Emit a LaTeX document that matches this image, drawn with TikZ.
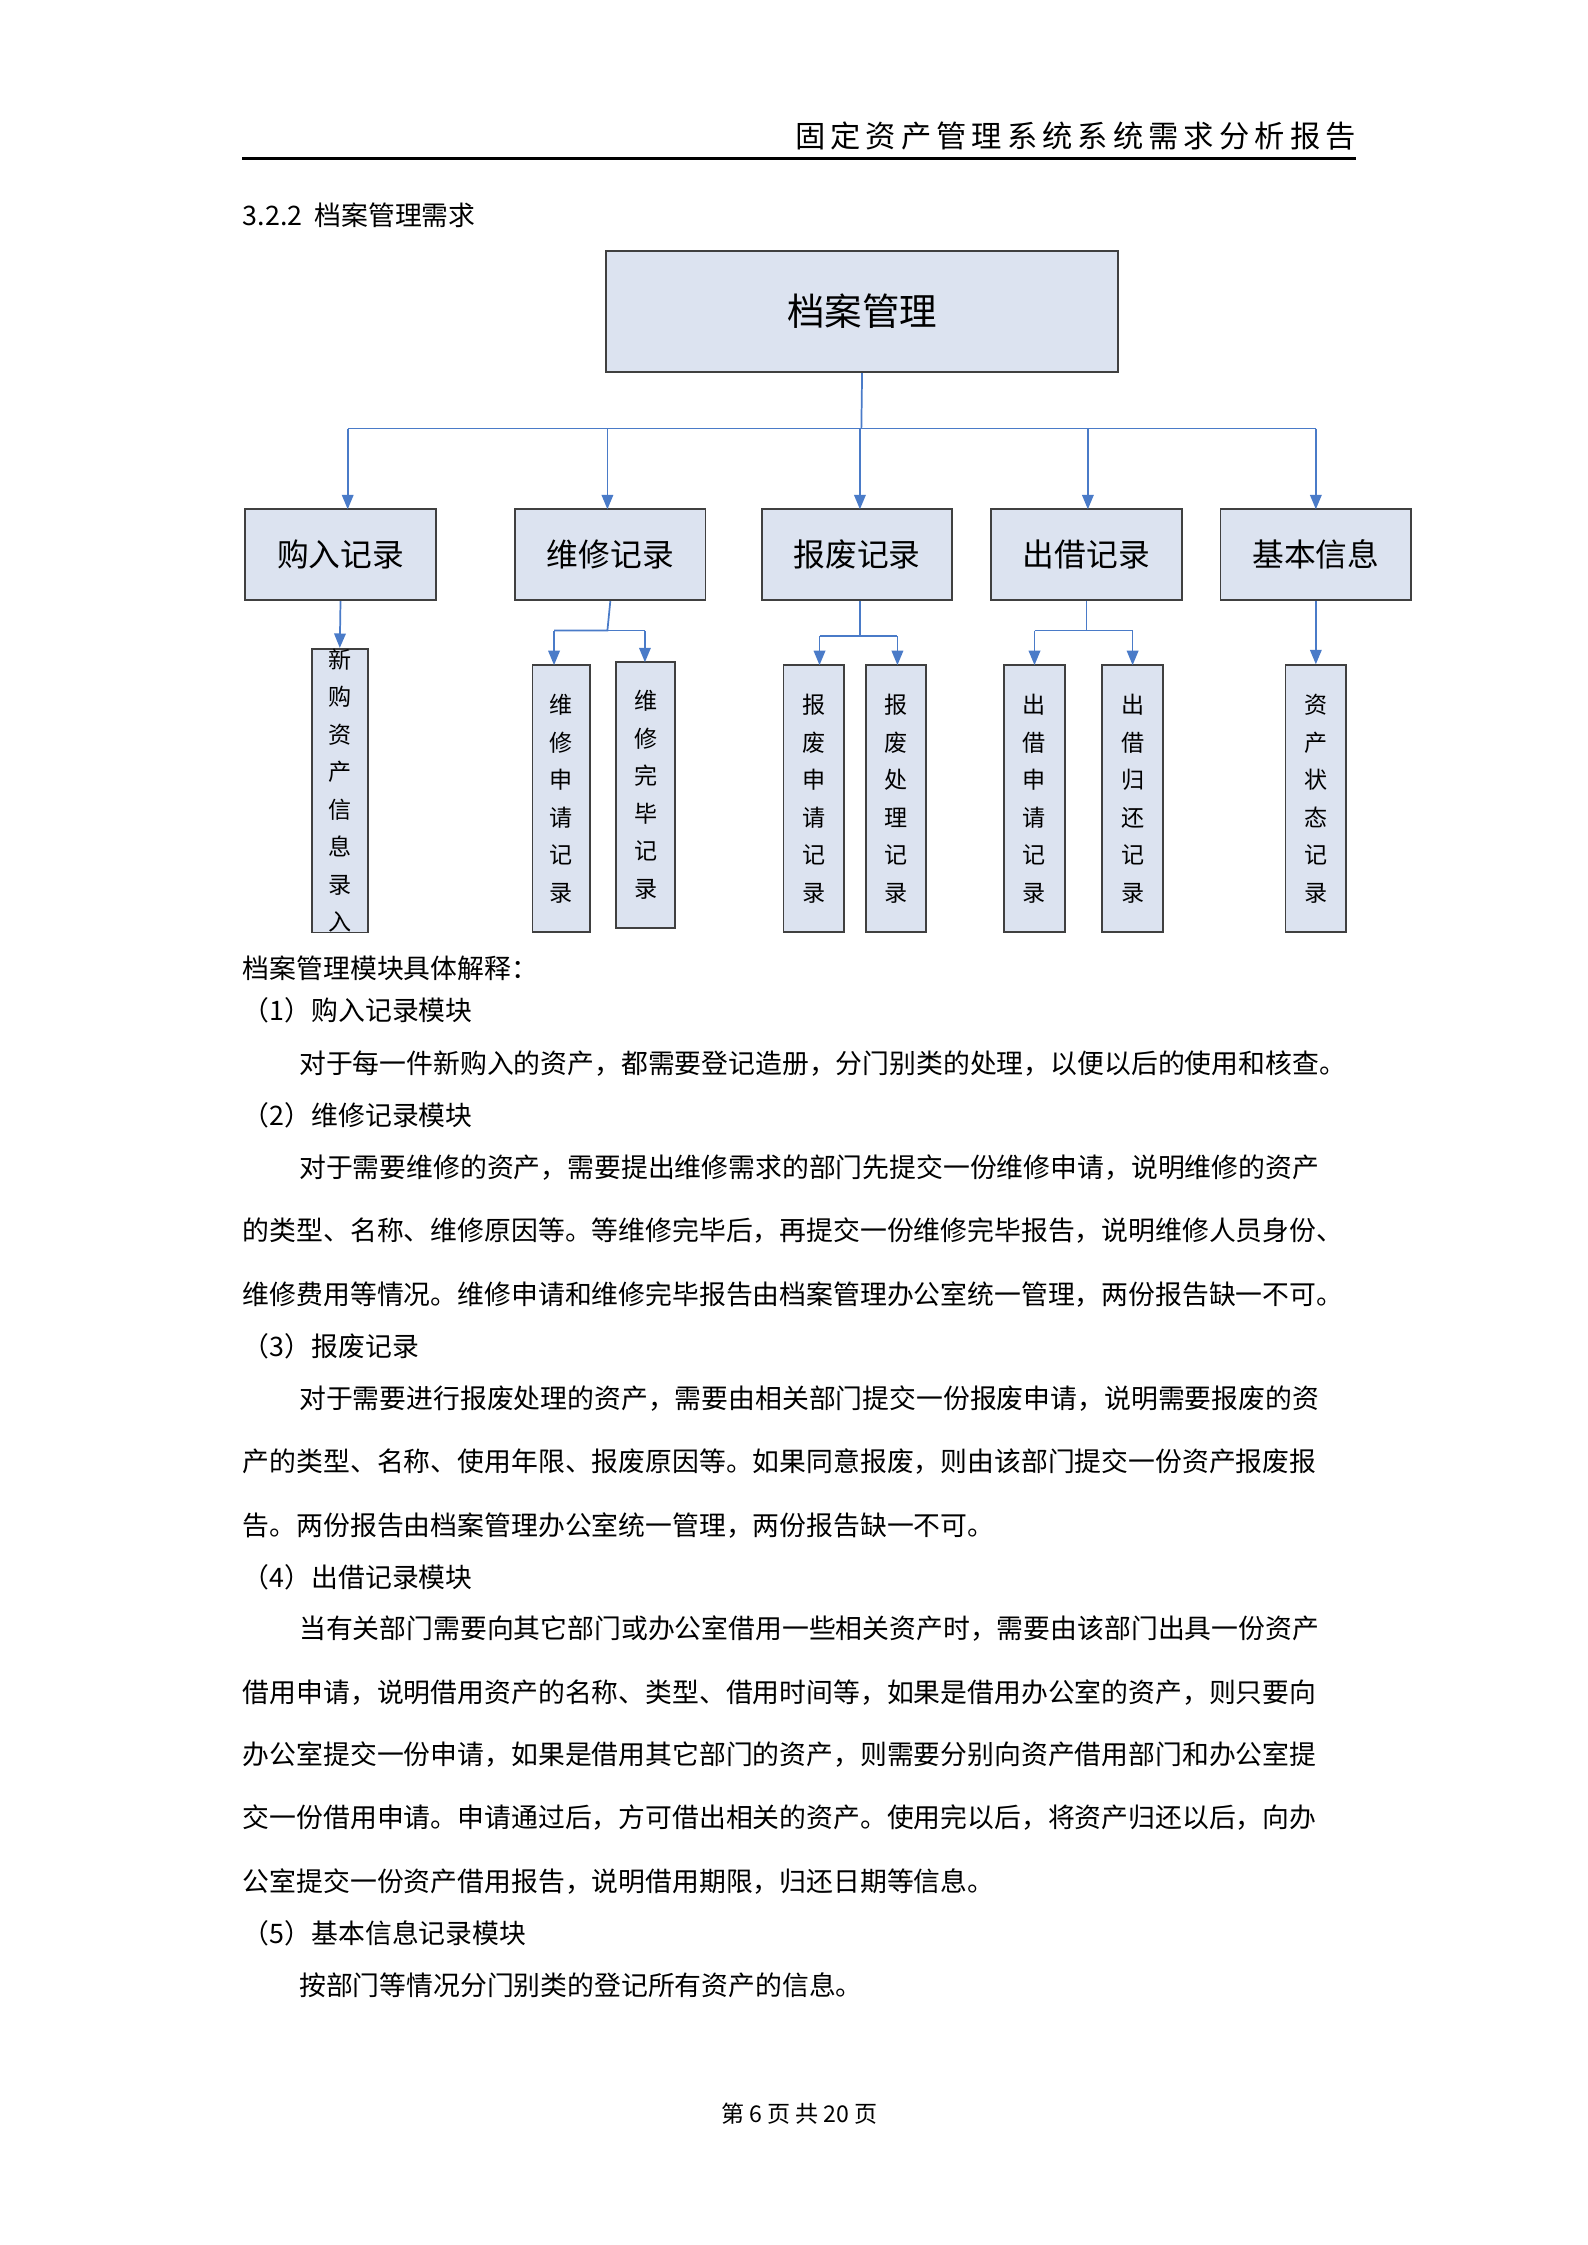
\documentclass[tikz,border=0pt]{standalone}
\usepackage{fontspec}
\setmainfont{Noto Sans CJK SC}
\usetikzlibrary{arrows.meta}
\definecolor{boxfill}{HTML}{DCE3F0}
\definecolor{conn}{HTML}{4A7BC8}
\tikzset{
 x=0.5pt,y=-0.5pt,
 lvl/.style={draw=black!75,fill=boxfill,line width=0.6pt,inner sep=0pt,font=\fontsize{11}{13}\selectfont},
 vbox/.style={draw=black!75,fill=boxfill,line width=0.6pt,inner sep=0pt,font=\fontsize{8}{11}\selectfont,align=center},
 cn/.style={draw=conn,line width=0.6pt},
 ca/.style={cn,-{Triangle[length=5pt,width=4pt]}},
 bt/.style={anchor=west,inner sep=0pt,font=\fontsize{9.3}{11}\selectfont},
}
\newcommand{\bx}[5]{\node[#1,minimum width={(#4-#2)*0.5pt},minimum height={(#5-#3)*0.5pt}] (#1n#2) at ({(#2+#4)/2},{(#3+#5)/2}) {};}
\begin{document}
\begin{tikzpicture}
\useasboundingbox (0,0) rectangle (1100,1556);
% header
\node[anchor=east,inner sep=0pt,font=\fontsize{10.5}{12}\selectfont] (hdr) at (940,94) {固\,定\,资\,产\,管\,理\,系\,统\,系\,统\,需\,求\,分\,析\,报\,告};
\coordinate (hl) at (168,110); \coordinate (hr) at (940,110);
\draw[line width=0.9pt] (hl) -- (hr);
\node[bt] (sec) at (168,149) {3.2.2\ \ 档案管理需求};
% top
\node[lvl,minimum width=177.5pt,minimum height=42pt,font=\fontsize{13}{15}\selectfont] (top) at (597.5,216) {档案管理};
\coordinate (j) at (597,297);
\node[lvl,minimum width=66pt,minimum height=31.5pt] (a) at (236,384.5) {购入记录};
\node[lvl,minimum width=66pt,minimum height=31.5pt] (b) at (423,384.5) {维修记录};
\node[lvl,minimum width=66pt,minimum height=31.5pt] (c) at (594,384.5) {报废记录};
\node[lvl,minimum width=66pt,minimum height=31.5pt] (d) at (753,384.5) {出借记录};
\node[lvl,minimum width=66pt,minimum height=31.5pt] (e) at (912,384.5) {基本信息};
\draw[cn] (top.south) -- (j);
\coordinate (ja) at (241,297); \coordinate (je) at (912,297);
\draw[cn] (ja) -- (je);
\foreach \xx/\nn in {241/a,421/b,596/c,754/d,912/e}{\draw[ca] (\xx,297) -- (\xx,353);}
% third level
\node[vbox,minimum width=19.5pt,minimum height=92pt] (a1) at (235.5,548) {新\\[2pt]购\\[2pt]资\\[2pt]产\\[2pt]信\\[2pt]息\\[2pt]录\\[2pt]入};
\node[vbox,minimum width=20pt,minimum height=92.5pt] (b1) at (389,553.5) {维\\[2pt]修\\[2pt]申\\[2pt]请\\[2pt]记\\[2pt]录};
\node[vbox,minimum width=20.5pt,minimum height=92pt] (b2) at (447.5,551) {维\\[2pt]修\\[2pt]完\\[2pt]毕\\[2pt]记\\[2pt]录};
\node[vbox,minimum width=21pt,minimum height=92.5pt] (c1) at (564,553.5) {报\\[2pt]废\\[2pt]申\\[2pt]请\\[2pt]记\\[2pt]录};
\node[vbox,minimum width=21pt,minimum height=92.5pt] (c2) at (621,553.5) {报\\[2pt]废\\[2pt]处\\[2pt]理\\[2pt]记\\[2pt]录};
\node[vbox,minimum width=21pt,minimum height=92.5pt] (d1) at (717,553.5) {出\\[2pt]借\\[2pt]申\\[2pt]请\\[2pt]记\\[2pt]录};
\node[vbox,minimum width=21pt,minimum height=92.5pt] (d2) at (785,553.5) {出\\[2pt]借\\[2pt]归\\[2pt]还\\[2pt]记\\[2pt]录};
\node[vbox,minimum width=21pt,minimum height=92.5pt] (e1) at (912,553.5) {资\\[2pt]产\\[2pt]状\\[2pt]态\\[2pt]记\\[2pt]录};
\draw[ca] (a.south) -- (a1.north);
\draw[cn] (b.south) -- (421,437) -| (384,437); \draw[cn] (384,437) -- (447,437);
\draw[ca] (384,437) -- (384,461); \draw[ca] (447,437) -- (447,459);
\draw[cn] (c.south) ++(2,0) -- (596,441); \draw[cn] (568,441) -- (622,441);
\draw[ca] (568,441) -- (568,461); \draw[ca] (622,441) -- (622,461);
\draw[cn] (d.south) -- (753,437); \draw[cn] (717,437) -- (785,437);
\draw[ca] (717,437) -- (717,461); \draw[ca] (785,437) -- (785,461);
\draw[ca] (e.south) -- (e1.north);
% body text
\node[bt] (t1) at (168,671) {档案管理模块具体解释：};
\node[bt] (t2) at (168,700) {（1）购入记录模块};
\node[bt] (t3) at (207,737) {对于每一件新购入的资产，都需要登记造册，分门别类的处理，以便以后的使用和核查。};
\node[bt] (t4) at (168,773) {（2）维修记录模块};
\node[bt] (t5) at (207,809) {对于需要维修的资产，需要提出维修需求的部门先提交一份维修申请，说明维修的资产};
\node[bt] (t6) at (168,853) {的类型、名称、维修原因等。等维修完毕后，再提交一份维修完毕报告，说明维修人员身份、};
\node[bt] (t7) at (168,897) {维修费用等情况。维修申请和维修完毕报告由档案管理办公室统一管理，两份报告缺一不可。};
\node[bt] (t8) at (168,933) {（3）报废记录};
\node[bt] (t9) at (207,969) {对于需要进行报废处理的资产，需要由相关部门提交一份报废申请，说明需要报废的资};
\node[bt] (t10) at (168,1013) {产的类型、名称、使用年限、报废原因等。如果同意报废，则由该部门提交一份资产报废报};
\node[bt] (t11) at (168,1057) {告。两份报告由档案管理办公室统一管理，两份报告缺一不可。};
\node[bt] (t12) at (168,1093) {（4）出借记录模块};
\node[bt] (t13) at (207,1129) {当有关部门需要向其它部门或办公室借用一些相关资产时，需要由该部门出具一份资产};
\node[bt] (t14) at (168,1173) {借用申请，说明借用资产的名称、类型、借用时间等，如果是借用办公室的资产，则只要向};
\node[bt] (t15) at (168,1216) {办公室提交一份申请，如果是借用其它部门的资产，则需要分别向资产借用部门和办公室提};
\node[bt] (t16) at (168,1260) {交一份借用申请。申请通过后，方可借出相关的资产。使用完以后，将资产归还以后，向办};
\node[bt] (t17) at (168,1304) {公室提交一份资产借用报告，说明借用期限，归还日期等信息。};
\node[bt] (t18) at (168,1340) {（5）基本信息记录模块};
\node[bt] (t19) at (207,1376) {按部门等情况分门别类的登记所有资产的信息。};
\node[inner sep=0pt,font=\fontsize{8}{10}\selectfont] (ft) at (554,1465) {第\ 6\ 页\ 共\ 20\ 页};
\end{tikzpicture}
\end{document}
